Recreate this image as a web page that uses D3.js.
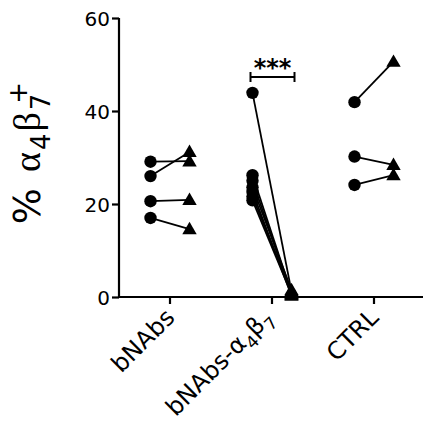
<!DOCTYPE html>
<html>
<head>
<meta charset="utf-8">
<script src="https://cdn.jsdelivr.net/npm/d3@7"></script>
<style>
  body { margin: 0; background: #fff; }
  text { font-family: "DejaVu Sans", sans-serif; fill: #000; }
</style>
</head>
<body>
<div id="chart"></div>
<script>
// groups on the x axis
var groups = ["bNAbs", "bNAbs-a4b7", "CTRL"];
var yTicks = [0, 20, 40, 60];

// paired values, before (circle) and after (triangle)
var bnabsPre = [29.1, 26.0, 20.6, 17.0];
var bnabsPost = [29.2, 31.2, 20.9, 14.6];

var a4b7Pre = [43.9, 26.2, 25.0, 23.6, 22.6, 21.6, 20.8];
var a4b7Post = [1.2, 0.8, 0.5, 1.5, 0.3, 1.0, 0.6];

var ctrlPre = [41.9, 30.2, 24.1];
var ctrlPost = [50.6, 28.4, 26.2];

var pairs = [];
function addPairs(group, pre, post) {
    for (var i = 0; i < pre.length; i++) {
        pairs.push({group: group, pre: pre[i], post: post[i]});
    }
}
addPairs("bNAbs", bnabsPre, bnabsPost);
addPairs("bNAbs-a4b7", a4b7Pre, a4b7Post);
addPairs("CTRL", ctrlPre, ctrlPost);

var width = 423, height = 439;

var svg = d3.select("#chart").append("svg")
    .attr("width", width)
    .attr("height", height);

var x = d3.scaleBand().domain(groups).range([119, 425]);
var side = d3.scalePoint().domain(["pre", "post"]).range([-19.5, 19.5]);
var y = d3.scaleLinear().domain([0, 60]).range([297, 18]);

function cx(d, s) { return x(d.group) + x.bandwidth() / 2 + side(s); }

// y axis
var yAxis = svg.append("g")
    .attr("transform", "translate(119,0)")
    .call(d3.axisLeft(y).tickValues(yTicks).tickSize(7).tickPadding(2));
yAxis.select(".domain").attr("stroke-width", 2.2).attr("d", "M0," + y(60) + "V" + (y(0) + 1));
yAxis.selectAll(".tick line").attr("stroke-width", 2.2);
yAxis.selectAll(".tick text").style("font-size", "20px").attr("dy", "0.36em");

// x axis
var xAxis = svg.append("g")
    .attr("transform", "translate(0,297)")
    .call(d3.axisBottom(x).tickSize(7).tickFormat(""));
xAxis.select(".domain").attr("stroke-width", 2.2).attr("d", "M118,0H423");
xAxis.selectAll(".tick line").attr("stroke-width", 2.2);

// x labels, rotated
var labels = svg.append("g").selectAll("text")
    .data(groups).enter().append("text")
    .attr("text-anchor", "end")
    .style("font-size", "24px")
    .attr("transform", function (d) {
        var off = d === "bNAbs-a4b7" ? 2 : 6;
        return "translate(" + (x(d) + x.bandwidth() / 2 + off) + ",319) rotate(-45)";
    });
labels.each(function (d) {
    var t = d3.select(this);
    if (d === "bNAbs-a4b7") {
        t.append("tspan").text("bNAbs-\u03b1");
        t.append("tspan").attr("dy", 7).style("font-size", "17px").text("4");
        t.append("tspan").attr("dy", -7).text("\u03b2");
        t.append("tspan").attr("dy", 7).style("font-size", "17px").text("7");
    } else {
        t.text(d);
    }
});

// y title
var title = svg.append("text")
    .attr("text-anchor", "middle")
    .style("font-size", "38px")
    .style("letter-spacing", "2px")
    .attr("transform", "translate(40,152) rotate(-90)");
title.append("tspan").text("% ");
title.append("tspan").style("font-family", "Liberation Serif").text("\u03b1");
title.append("tspan").attr("dy", 10).style("font-size", "26px").text("4");
title.append("tspan").attr("dy", -10).style("font-family", "Liberation Serif").text("\u03b2");
title.append("tspan").attr("dy", 10).style("font-size", "26px").text("7");
title.append("tspan").attr("dy", -23).attr("dx", -12).style("font-size", "26px").text("+");

// connecting lines
svg.append("g").selectAll("line")
    .data(pairs).enter().append("line")
    .attr("x1", function (d) { return cx(d, "pre"); })
    .attr("y1", function (d) { return y(d.pre); })
    .attr("x2", function (d) { return cx(d, "post"); })
    .attr("y2", function (d) { return y(d.post); })
    .attr("stroke", "#000")
    .attr("stroke-width", 1.8);

// circles
svg.append("g").selectAll("circle")
    .data(pairs).enter().append("circle")
    .attr("cx", function (d) { return cx(d, "pre"); })
    .attr("cy", function (d) { return y(d.pre); })
    .attr("r", 6.2)
    .attr("fill", "#000");

// triangles
var tri = d3.symbol().type(d3.symbolTriangle).size(90);
svg.append("g").selectAll("path")
    .data(pairs).enter().append("path")
    .attr("d", tri)
    .attr("transform", function (d) {
        return "translate(" + cx(d, "post") + "," + (y(d.post) + 1) + ")";
    })
    .attr("fill", "#000");

// significance bracket
var bx1 = cx({group: "bNAbs-a4b7"}, "pre") - 2, bx2 = cx({group: "bNAbs-a4b7"}, "post") + 3;
var by = 77;
var br = svg.append("g").attr("stroke", "#000").attr("stroke-width", 2);
br.append("line").attr("x1", bx1).attr("x2", bx2).attr("y1", by).attr("y2", by);
br.append("line").attr("x1", bx1).attr("x2", bx1).attr("y1", by - 5).attr("y2", by + 5);
br.append("line").attr("x1", bx2).attr("x2", bx2).attr("y1", by - 5).attr("y2", by + 5);
svg.append("text")
    .attr("x", (bx1 + bx2) / 2)
    .attr("y", 76)
    .attr("text-anchor", "middle")
    .style("font-size", "24px")
    .style("font-weight", "bold")
    .text("***");
</script>
</body>
</html>
